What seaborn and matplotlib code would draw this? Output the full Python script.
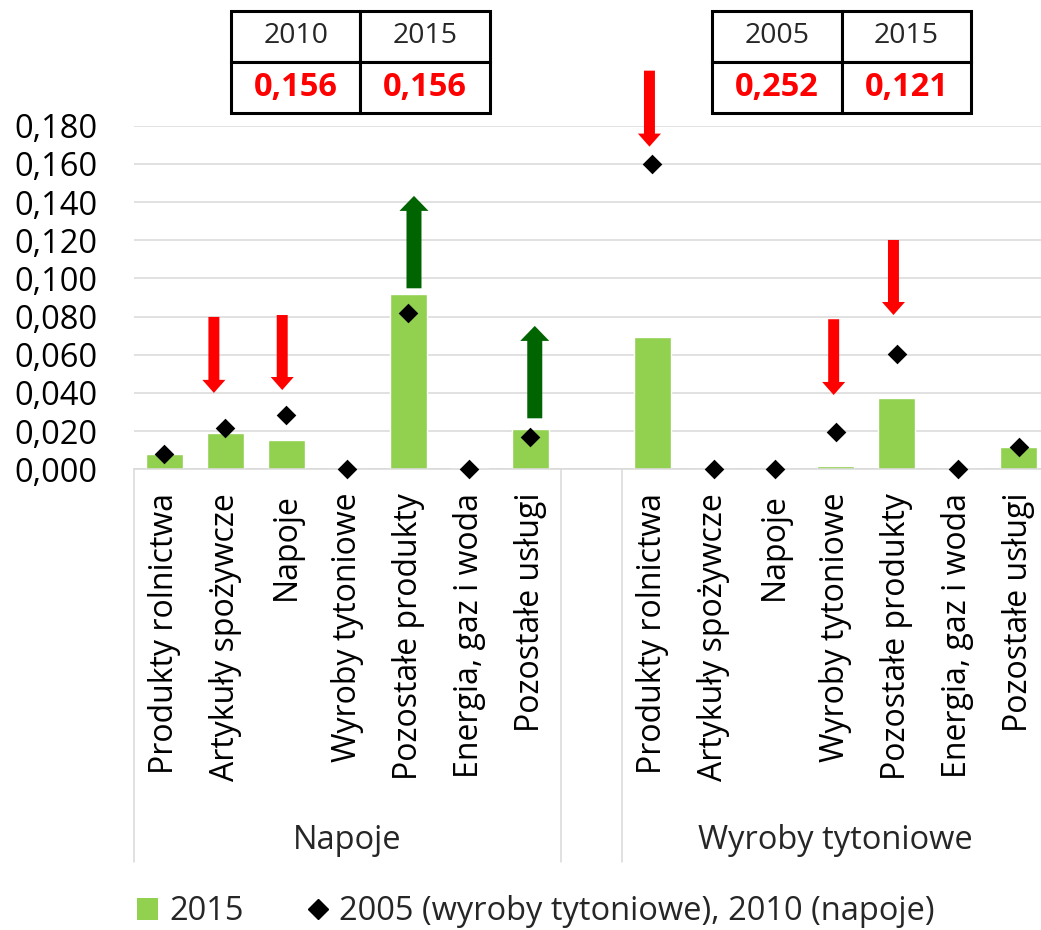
import pandas as pd
import matplotlib.pyplot as plt
import matplotlib.transforms as mtransforms
from matplotlib.patches import Patch
from matplotlib.lines import Line2D
import seaborn as sns

categories = ["Produkty rolnictwa", "Artykuły spożywcze", "Napoje", "Wyroby tytoniowe",
              "Pozostałe produkty", "Energia, gaz i woda", "Pozostałe usługi"]
groups = ["Napoje", "Wyroby tytoniowe"]

# 2015 shares (bars)
share_2015_napoje = [0.0080, 0.0189, 0.0153, 0.0, 0.0918, 0.0005, 0.0209]
share_2015_tyton = [0.0691, 0.0, 0.0, 0.0017, 0.0373, 0.0, 0.0115]
# base year shares (diamonds): 2010 for napoje, 2005 for wyroby tytoniowe
share_base_napoje = [0.0079, 0.0215, 0.0284, 0.0, 0.0817, 0.0, 0.0168]
share_base_tyton = [0.1599, 0.0, 0.0, 0.0194, 0.0604, 0.0, 0.0118]

# change arrows
arrow_group = [0, 0, 0, 0, 1, 1, 1]
arrow_cat = [1, 2, 4, 6, 0, 3, 4]
arrow_from = [0.0798, 0.0808, 0.0948, 0.0267, 0.2088, 0.0786, 0.1201]
arrow_to = [0.0400, 0.0415, 0.1432, 0.0751, 0.1690, 0.0389, 0.0808]
arrow_shift = [-0.19, -0.07, 0.09, 0.07, -0.05, -0.03, -0.05]

# summary boxes above the chart
table_years = [["2010", "2015"], ["2005", "2015"]]
table_values = [["0,156", "0,156"], ["0,252", "0,121"]]

GREEN = "#92d050"
GRID = "#d9d9d9"

n = len(categories)
rows = []
for g, (bars, base) in enumerate([(share_2015_napoje, share_base_napoje),
                                  (share_2015_tyton, share_base_tyton)]):
    for i, cat in enumerate(categories):
        rows.append({"pos": g * (n + 1) + i, "category": cat, "group": groups[g],
                     "y2015": bars[i], "ybase": base[i]})
df = pd.DataFrame(rows)

sns.set_theme(style="white")
plt.rcParams["font.family"] = ["Open Sans", "DejaVu Sans"]

fig = plt.figure(figsize=(10.41, 9.30), dpi=100)
ax = fig.add_axes([0.1287, 0.4954, 0.879, 0.3695])

sns.barplot(data=df, x="pos", y="y2015", native_scale=True, width=0.62, color=GREEN,
            saturation=1, errorbar=None, ax=ax, zorder=2)
sns.scatterplot(data=df, x="pos", y="ybase", marker="D", s=100, color="black",
                linewidth=0, clip_on=False, zorder=4, ax=ax)

ax.set_xlim(-0.5, 2 * n + 0.5)
ax.set_ylim(0, 0.18)
ax.set_xlabel("")
ax.set_ylabel("")

yt = [i * 0.02 for i in range(10)]
ax.set_yticks(yt, [f"{v:.3f}".replace(".", ",") for v in yt], fontsize=23.5)
ax.set_xticks(df["pos"], df["category"], rotation=90, fontsize=23)
ax.tick_params(axis="y", length=0, pad=26, colors="black")
ax.tick_params(axis="x", length=0, pad=17, colors="black")
ax.grid(axis="y", color=GRID, linewidth=1.1, zorder=0)
ax.set_axisbelow(True)
for s in ["left", "top", "right"]:
    ax.spines[s].set_visible(False)
ax.spines["bottom"].set_color(GRID)
ax.spines["bottom"].set_linewidth(1.1)

# multi-level category separators and group labels
trans = mtransforms.blended_transform_factory(ax.transData, ax.transAxes)
for x in [-0.5, n - 0.5, n + 0.5, 2 * n + 0.5]:
    ax.plot([x, x], [0, -1.143], transform=trans, color=GRID, lw=1.1, clip_on=False)
for g, name in enumerate(groups):
    cx = g * (n + 1) + (n - 1) / 2
    ax.text(cx, -1.08, name, transform=trans, ha="center", va="center", fontsize=23.5)

# arrows
for g, c, a, b, dx in zip(arrow_group, arrow_cat, arrow_from, arrow_to, arrow_shift):
    x = g * (n + 1) + c + dx
    if b > a:
        style = "simple,head_width=2.09,head_length=1.08,tail_width=1.08"
        col = "#006400"
    else:
        style = "simple,head_width=1.66,head_length=0.94,tail_width=0.79"
        col = "#ff0000"
    ax.annotate("", xy=(x, b), xytext=(x, a), annotation_clip=False,
                arrowprops=dict(arrowstyle=style, mutation_scale=10, color=col, lw=0,
                                shrinkA=0, shrinkB=0), zorder=5)

# summary tables
for x0, years, vals in zip([0.106, 0.632], table_years, table_values):
    tb = ax.table(cellText=[years, vals], cellLoc="center",
                  bbox=[x0, 1.037, 0.283, 0.297])
    tb.auto_set_font_size(False)
    for (r, col), cell in tb.get_celld().items():
        cell.set_linewidth(2.2)
        cell.set_edgecolor("black")
        cell.set_facecolor("white")
        if r == 0:
            cell.get_text().set_fontsize(20.5)
        else:
            cell.get_text().set_fontsize(23.5)
            cell.get_text().set_color("#ff0000")
            cell.get_text().set_fontweight("bold")

handles = [Patch(facecolor=GREEN, edgecolor="none"),
           Line2D([], [], marker="D", color="black", linestyle="none", markersize=10)]
fig.legend(handles, ["2015", "2005 (wyroby tytoniowe), 2010 (napoje)"],
           loc="center left", bbox_to_anchor=(0.1316, 0.0194), ncol=2, frameon=False,
           fontsize=23.5, handlelength=0.65, handletextpad=0.33, columnspacing=1.95,
           borderpad=0, borderaxespad=0)

fig.savefig("out.png", dpi=100)
